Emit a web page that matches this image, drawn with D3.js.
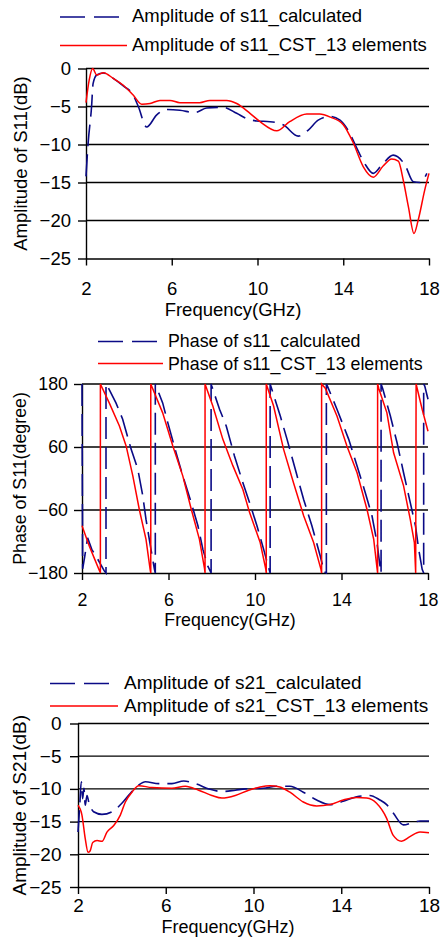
<!DOCTYPE html>
<html>
<head>
<meta charset="utf-8">
<script src="https://cdn.jsdelivr.net/npm/d3@7"></script>
<style>
  body { margin: 0; background: #fff; }
  text { font-family: "Liberation Sans", Arial, sans-serif; }
</style>
</head>
<body>
<div id="chart"></div>
<script>
// data: [frequency GHz, value]
const freqTicks = [2, 6, 10, 14, 18]
const ampTicks = [0, -5, -10, -15, -20, -25]
const phaseTicks = [180, 60, -60, -180]

const s11AmpCalc = [[2.0,-14.2],[2.1,-9.8],[2.26,-5.0],[2.33,-2.0],[2.5,-0.85],[2.81,-0.6],[3.27,-1.3],[3.74,-2.3],[4.2,-3.5],[4.44,-5.0],[4.83,-7.7],[5.3,-6.1],[5.76,-5.4],[6.38,-5.5],[7.08,-5.8],[7.63,-5.2],[8.4,-5.1],[9.03,-5.9],[9.5,-6.6],[9.96,-6.9],[10.58,-7.0],[11.2,-7.4],[11.9,-8.9],[12.37,-8.1],[12.83,-6.8],[13.38,-6.3],[13.85,-6.8],[14.3,-8.5],[14.62,-10.4],[15.0,-12.5],[15.4,-13.8],[15.8,-12.7],[16.33,-11.4],[16.88,-12.7],[17.27,-14.9],[17.58,-15.0],[17.9,-13.8]]
const s11AmpCst = [[2.0,-4.5],[2.15,-1.5],[2.31,0],[2.5,-0.85],[2.81,-0.55],[3.27,-1.3],[3.74,-2.2],[4.2,-3.5],[4.6,-4.7],[4.99,-4.6],[5.45,-4.2],[5.92,-4.2],[6.38,-4.5],[7.3,-4.5],[7.78,-4.2],[8.56,-4.2],[9.03,-4.6],[9.65,-5.9],[10.12,-7.0],[10.9,-8.2],[11.5,-7.0],[12.3,-6.0],[12.9,-6.0],[13.4,-6.4],[14.0,-7.4],[14.47,-9.8],[14.93,-12.9],[15.4,-14.3],[15.87,-12.8],[16.26,-11.9],[16.57,-12.2],[16.8,-14.7],[17.04,-18.2],[17.3,-21.7],[17.5,-19.9],[17.8,-16.0],[18.0,-13.8]]

const s11PhaseCalc = [[2.0,180],[2.03,-172],[2.12,-150],[2.26,-113],[2.45,-135],[2.65,-148],[3.03,-176],[3.11,-180],
  [3.11,180],[3.15,178],[3.57,144],[3.88,113],[4.27,56],[4.58,18],[4.81,-33],[4.96,-78],[5.19,-135],[5.35,-173],[5.39,-180],
  [5.39,180],[5.73,144],[5.97,106],[6.35,49],[6.66,5],[7.05,-46],[7.36,-90],[7.59,-135],[7.82,-167],[7.97,-180],
  [7.97,180],[8.0,176],[8.36,132],[8.67,100],[9.05,43],[9.44,-8],[9.75,-46],[10.09,-90],[10.4,-135],[10.63,-170],[10.7,-180],
  [10.7,180],[11.17,119],[11.48,75],[11.86,18],[12.25,-40],[12.63,-90],[13.02,-148],[13.2,-178],[13.3,-180],
  [13.3,180],[13.35,176],[13.79,132],[14.33,75],[14.72,24],[15.1,-27],[15.41,-71],[15.64,-122],[15.8,-173],[15.83,-180],
  [15.83,180],[15.9,172],[16.26,119],[16.57,68],[16.87,11],[17.18,-46],[17.42,-90],[17.57,-135],[17.73,-173],[17.8,-180],
  [17.8,180],[17.85,176],[18.0,151]]
const s11PhaseCst = [[2.0,-90],[2.34,-129],[2.6,-155],[2.85,-180],
  [2.85,180],[3.26,144],[3.73,100],[4.04,62],[4.35,5],[4.65,-59],[4.96,-116],[5.15,-173],[5.18,-180],
  [5.18,180],[5.73,125],[6.2,62],[6.66,5],[7.05,-58],[7.43,-116],[7.66,-170],[7.69,-180],
  [7.69,180],[8.05,138],[8.51,75],[8.98,24],[9.44,-21],[9.75,-65],[10.24,-122],[10.5,-173],[10.52,-180],
  [10.52,180],[10.86,138],[11.32,56],[11.78,-8],[12.25,-71],[12.71,-122],[13.05,-173],[13.08,-180],
  [13.08,180],[13.25,172],[13.79,119],[14.25,62],[14.72,11],[15.18,-59],[15.49,-116],[15.64,-170],[15.67,-180],
  [15.67,180],[15.72,172],[16.1,125],[16.41,49],[16.87,-14],[17.18,-78],[17.37,-122],[17.43,-180],
  [17.45,180],[17.73,132],[18.0,90]]

const s21AmpCalc = [[2.0,-16.6],[2.08,-12.5],[2.15,-8.9],[2.21,-11.5],[2.27,-9.9],[2.33,-12.5],[2.41,-11],[2.49,-12],[2.71,-13.5],[3.09,-13.9],[3.55,-13.5],[4.0,-12.2],[4.38,-10.7],[4.77,-9.4],[5.07,-8.9],[5.68,-9.2],[6.28,-9.2],[6.82,-8.8],[7.35,-9.2],[7.96,-10.0],[8.56,-10.4],[9.17,-10.2],[9.63,-10.0],[10.45,-9.9],[11.06,-9.6],[11.66,-9.6],[12.27,-10.5],[12.88,-11.7],[13.49,-12.4],[14.09,-11.9],[14.7,-11.2],[15.3,-11.0],[15.76,-11.7],[16.07,-12.4],[16.37,-13.7],[16.83,-15.5],[17.29,-15.1],[17.59,-14.9],[18.0,-14.9]]
const s21AmpCst = [[2.0,-12.5],[2.18,-14],[2.33,-17.6],[2.46,-19.7],[2.55,-19.5],[2.67,-18.2],[2.87,-17.9],[3.1,-18],[3.32,-16.6],[3.63,-15.6],[3.93,-14],[4.16,-12],[4.46,-10.5],[4.77,-9.5],[5.37,-9.8],[6.28,-9.9],[6.89,-9.6],[7.5,-10.2],[8.1,-11.0],[8.56,-11.4],[9.17,-11.0],[9.78,-10.2],[10.3,-9.7],[10.75,-9.5],[11.2,-9.7],[11.66,-10.5],[12.27,-12.0],[12.88,-12.6],[13.49,-12.4],[14.09,-11.7],[14.7,-11.3],[15.16,-11.4],[15.61,-12.2],[16.07,-14.5],[16.37,-17.1],[16.75,-18.0],[17.13,-17.3],[17.59,-16.6],[18.0,-16.7]]

const BLUE = "#0a0a86", RED = "#ff0000"

const svg = d3.select("#chart").append("svg")
    .attr("width", 441)
    .attr("height", 938)
    .style("background", "#fff")

function drawPanel(p) {
    const x = d3.scaleLinear().domain([2, 18]).range([p.left, p.right])
    const y = d3.scaleLinear().domain(p.yDomain).range([p.bottom, p.top])
    const g = svg.append("g").attr("font-size", p.font)

    // horizontal grid lines
    g.append("g").selectAll("line")
        .data(p.yTicks.filter(t => t !== p.yDomain[0]))
        .join("line")
        .attr("x1", p.left).attr("x2", p.right)
        .attr("y1", d => y(d)).attr("y2", d => y(d))
        .attr("stroke", "#000").attr("stroke-width", 1.3)

    const xAxis = g.append("g")
        .attr("transform", `translate(0,${p.bottom})`)
        .call(d3.axisBottom(x).tickValues(freqTicks).tickSize(7).tickSizeOuter(0).tickPadding(p.xPad).tickFormat(d3.format("d")))
    const yAxis = g.append("g")
        .attr("transform", `translate(${p.left},0)`)
        .call(d3.axisLeft(y).tickValues(p.yTicks).tickSize(8).tickSizeOuter(0).tickPadding(p.yPad).tickFormat(d3.format("d")))
    ;[xAxis, yAxis].forEach(a => {
        a.attr("font-size", p.font).attr("font-family", null)
        a.selectAll("path, line").attr("stroke", "#000").attr("stroke-width", 1.4)
        a.selectAll("text").attr("fill", "#000")
    })

    const line = d3.line().x(d => x(d[0])).y(d => y(d[1])).curve(p.curve)
    g.append("path").datum(p.calc).attr("d", line)
        .attr("fill", "none").attr("stroke", BLUE).attr("stroke-width", 1.6)
        .attr("stroke-dasharray", "22,8")
    g.append("path").datum(p.cst).attr("d", line)
        .attr("fill", "none").attr("stroke", RED).attr("stroke-width", 1.5)

    // axis titles
    g.append("text").text("Frequency(GHz)")
        .attr("x", p.xTitle[0]).attr("y", p.xTitle[1]).attr("text-anchor", "middle")
        .attr("font-size", p.titleFont || p.font)
    g.append("text").text(p.yTitle)
        .attr("transform", `translate(${p.yTitleX},${(p.top + p.bottom) / 2}) rotate(-90)`)
        .attr("text-anchor", "middle")

    // legend
    const leg = [
        { label: p.labels[0], color: BLUE, dash: "25,9", ly: p.legY[0], ty: p.legText[0] },
        { label: p.labels[1], color: RED, dash: null, ly: p.legY[1], ty: p.legText[1] }
    ]
    leg.forEach(l => {
        g.append("line")
            .attr("x1", p.legX[0]).attr("x2", p.legX[1])
            .attr("y1", l.ly).attr("y2", l.ly)
            .attr("stroke", l.color).attr("stroke-width", 1.6)
            .attr("stroke-dasharray", l.dash)
        g.append("text").text(l.label)
            .attr("x", p.legX[2]).attr("y", l.ty)
    })
}

drawPanel({
    left: 86, right: 429, top: 68.5, bottom: 258.5,
    yDomain: [-25, 0], yTicks: ampTicks, font: 18.5, xPad: 16, yPad: 7,
    calc: s11AmpCalc, cst: s11AmpCst, curve: d3.curveMonotoneX,
    xTitle: [233, 316], yTitle: "Amplitude of S11(dB)", yTitleX: 27,
    labels: ["Amplitude of s11_calculated", "Amplitude of s11_CST_13 elements"],
    legX: [60, 127, 132], legY: [17, 45.5], legText: [22, 50.5]
})

drawPanel({
    left: 82, right: 428, top: 384, bottom: 573,
    yDomain: [-180, 180], yTicks: phaseTicks, font: 17.8, xPad: 13, yPad: 6,
    calc: s11PhaseCalc, cst: s11PhaseCst, curve: d3.curveLinear,
    xTitle: [230, 626], yTitle: "Phase of S11(degree)", yTitleX: 25.5,
    labels: ["Phase of s11_calculated", "Phase of s11_CST_13 elements"],
    legX: [98, 163, 168], legY: [341.5, 363.5], legText: [346.5, 370]
})

drawPanel({
    left: 78, right: 429, top: 723.5, bottom: 887,
    yDomain: [-25, 0], yTicks: ampTicks, font: 19, xPad: 5, yPad: 8.5,
    calc: s21AmpCalc, cst: s21AmpCst, curve: d3.curveMonotoneX,
    xTitle: [228, 933], titleFont: 18, yTitle: "Amplitude of S21(dB)", yTitleX: 25.5,
    labels: ["Amplitude of s21_calculated", "Amplitude of s21_CST_13 elements"],
    legX: [50, 118, 124], legY: [683.5, 706], legText: [688.5, 712]
})
</script>
</body>
</html>
